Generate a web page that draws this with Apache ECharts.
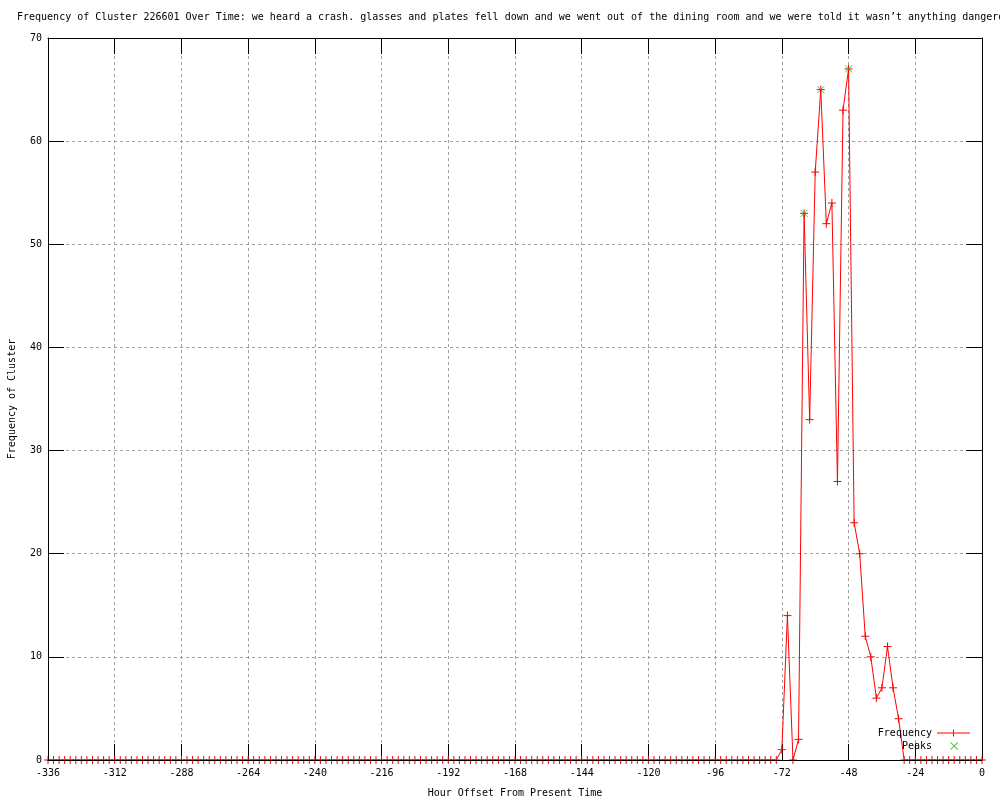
<!DOCTYPE html>
<html>
<head>
<meta charset="utf-8">
<script src="https://cdn.jsdelivr.net/npm/echarts@6/dist/echarts.min.js"></script>
<style>
html,body{margin:0;padding:0;background:#fff;overflow:hidden;}
#chart{width:1000px;height:800px;}
</style>
</head>
<body>
<div id="chart"></div>
<script>
var titleText = "Frequency of Cluster 226601 Over Time: we heard a crash. glasses and plates fell down and we went out of the dining room and we were told it wasn\u2019t anything dangero";

var hours = [
-336,-334,-332,-330,-328,-326,-324,-322,-320,-318,-316,-314,
-312,-310,-308,-306,-304,-302,-300,-298,-296,-294,-292,-290,
-288,-286,-284,-282,-280,-278,-276,-274,-272,-270,-268,-266,
-264,-262,-260,-258,-256,-254,-252,-250,-248,-246,-244,-242,
-240,-238,-236,-234,-232,-230,-228,-226,-224,-222,-220,-218,
-216,-214,-212,-210,-208,-206,-204,-202,-200,-198,-196,-194,
-192,-190,-188,-186,-184,-182,-180,-178,-176,-174,-172,-170,
-168,-166,-164,-162,-160,-158,-156,-154,-152,-150,-148,-146,
-144,-142,-140,-138,-136,-134,-132,-130,-128,-126,-124,-122,
-120,-118,-116,-114,-112,-110,-108,-106,-104,-102,-100,-98,
-96,-94,-92,-90,-88,-86,-84,-82,-80,-78,-76,-74,
-72,-70,-68,-66,-64,-62,-60,-58,-56,-54,-52,-50,
-48,-46,-44,-42,-40,-38,-36,-34,-32,-30,-28,-26,
-24,-22,-20,-18,-16,-14,-12,-10,-8,-6,-4,-2,0
];

var frequency = [
0,0,0,0,0,0,0,0,0,0,0,0,
0,0,0,0,0,0,0,0,0,0,0,0,
0,0,0,0,0,0,0,0,0,0,0,0,
0,0,0,0,0,0,0,0,0,0,0,0,
0,0,0,0,0,0,0,0,0,0,0,0,
0,0,0,0,0,0,0,0,0,0,0,0,
0,0,0,0,0,0,0,0,0,0,0,0,
0,0,0,0,0,0,0,0,0,0,0,0,
0,0,0,0,0,0,0,0,0,0,0,0,
0,0,0,0,0,0,0,0,0,0,0,0,
0,0,0,0,0,0,0,0,0,0,0,0,
1,14,0,2,53,33,57,65,52,54,27,63,
67,23,20,12,10,6,7,11,7,4,0,0,
0,0,0,0,0,0,0,0,0,0,0,0,0
];

var peakHours = [-64, -58, -48];
var peakValues = [53, 65, 67];

var xTicks = {min: -336, max: 0, interval: 24};
var yTicks = {min: 0, max: 70, interval: 10};

var FONT = "DejaVu Sans Mono";
var RED = "#ff0000";
var GREEN = "#00c000";

var freqData = hours.map(function (h, i) { return [h, frequency[i]]; });
var peakData = peakHours.map(function (h, i) { return [h, peakValues[i]]; });

var plusSymbol = "path://M0,4 L8,4 M4,0 L4,8";
var crossSymbol = "path://M0,0 L7,7 M7,0 L0,7";
var anchors = " M0,0 L0.01,0 L0,0.01 Z M33,10 L32.99,10 L33,9.99 Z";
var freqIcon = "path://M0,4.5 L33,4.5 L33,5.5 L0,5.5 Z M16,1.5 L17,1.5 L17,8.5 L16,8.5 Z" + anchors;
var peakIcon = "path://M13,1.5 L14.4,1.5 L21.4,8.5 L20,8.5 Z M20,1.5 L21.4,1.5 L14.4,8.5 L13,8.5 Z" + anchors;

var textBase = {fontFamily: FONT, fontSize: 10, color: "#000"};
var gridLine = {show: true, lineStyle: {color: "#a0a0a0", width: 1, type: [3, 3]}};
var blackLine = {show: true, onZero: false, lineStyle: {color: "#000", width: 1}};
var innerTick = {show: true, inside: true, length: 16, lineStyle: {color: "#000"}};

var chart = echarts.init(document.getElementById("chart"), null, {renderer: "canvas"});
chart.setOption({
  animation: false,
  backgroundColor: "#fff",
  title: {
    text: titleText,
    left: 17, top: 12, padding: 0,
    textStyle: {fontFamily: FONT, fontSize: 10, fontWeight: "normal", color: "#000"}
  },
  grid: {left: 48, right: 18, top: 38, bottom: 40, containLabel: false, outerBoundsMode: "none"},
  legend: [
    {
      data: [{name: "Frequency", icon: freqIcon, itemStyle: {color: RED, borderWidth: 0}}],
      orient: "vertical", align: "right", right: 30, top: 728, padding: 0,
      itemWidth: 33, itemHeight: 10, selectedMode: false,
      textStyle: textBase
    },
    {
      data: [{name: "Peaks", icon: peakIcon, itemStyle: {color: GREEN, borderWidth: 0}}],
      orient: "vertical", align: "right", right: 30, top: 741, padding: 0,
      itemWidth: 33, itemHeight: 10, selectedMode: false,
      textStyle: textBase
    }
  ],
  xAxis: [
    {
      type: "value", position: "bottom", min: xTicks.min, max: xTicks.max, interval: xTicks.interval,
      z: 5,
      name: "Hour Offset From Present Time", nameLocation: "middle", nameGap: 28,
      nameTextStyle: textBase,
      axisLine: blackLine,
      axisTick: {show: false},
      axisLabel: {show: true, margin: 8, fontFamily: FONT, fontSize: 10, color: "#000"},
      splitLine: {show: false}
    },
    {
      type: "value", position: "top", min: xTicks.min, max: xTicks.max, interval: xTicks.interval,
      z: 0,
      axisLine: blackLine,
      axisTick: innerTick,
      axisLabel: {show: false},
      splitLine: gridLine
    },
    {
      type: "value", position: "bottom", min: xTicks.min, max: xTicks.max, interval: xTicks.interval,
      z: 0,
      axisLine: {show: false},
      axisTick: innerTick,
      axisLabel: {show: false},
      splitLine: {show: false}
    }
  ],
  yAxis: [
    {
      type: "value", position: "left", min: yTicks.min, max: yTicks.max, interval: yTicks.interval,
      z: 5,
      name: "Frequency of Cluster", nameLocation: "middle", nameGap: 31,
      nameTextStyle: textBase,
      axisLine: blackLine,
      axisTick: innerTick,
      axisLabel: {show: true, margin: 6, fontFamily: FONT, fontSize: 10, color: "#000"},
      splitLine: {show: false}
    },
    {
      type: "value", position: "right", min: yTicks.min, max: yTicks.max, interval: yTicks.interval,
      z: 0,
      axisLine: blackLine,
      axisTick: innerTick,
      axisLabel: {show: false},
      splitLine: gridLine
    }
  ],
  series: [
    {
      name: "Frequency", type: "line", xAxisIndex: 0, yAxisIndex: 0,
      data: freqData,
      symbol: plusSymbol, symbolSize: 8, showSymbol: true, showAllSymbol: true,
      lineStyle: {color: RED, width: 1},
      itemStyle: {color: RED, borderColor: RED, borderWidth: 1},
      emphasis: {disabled: true},
      z: 2
    },
    {
      name: "Peaks", type: "scatter", xAxisIndex: 0, yAxisIndex: 0,
      data: peakData,
      symbol: crossSymbol, symbolSize: 7,
      itemStyle: {color: GREEN, borderColor: GREEN, borderWidth: 1},
      emphasis: {disabled: true},
      z: 3
    }
  ]
});
</script>
</body>
</html>
